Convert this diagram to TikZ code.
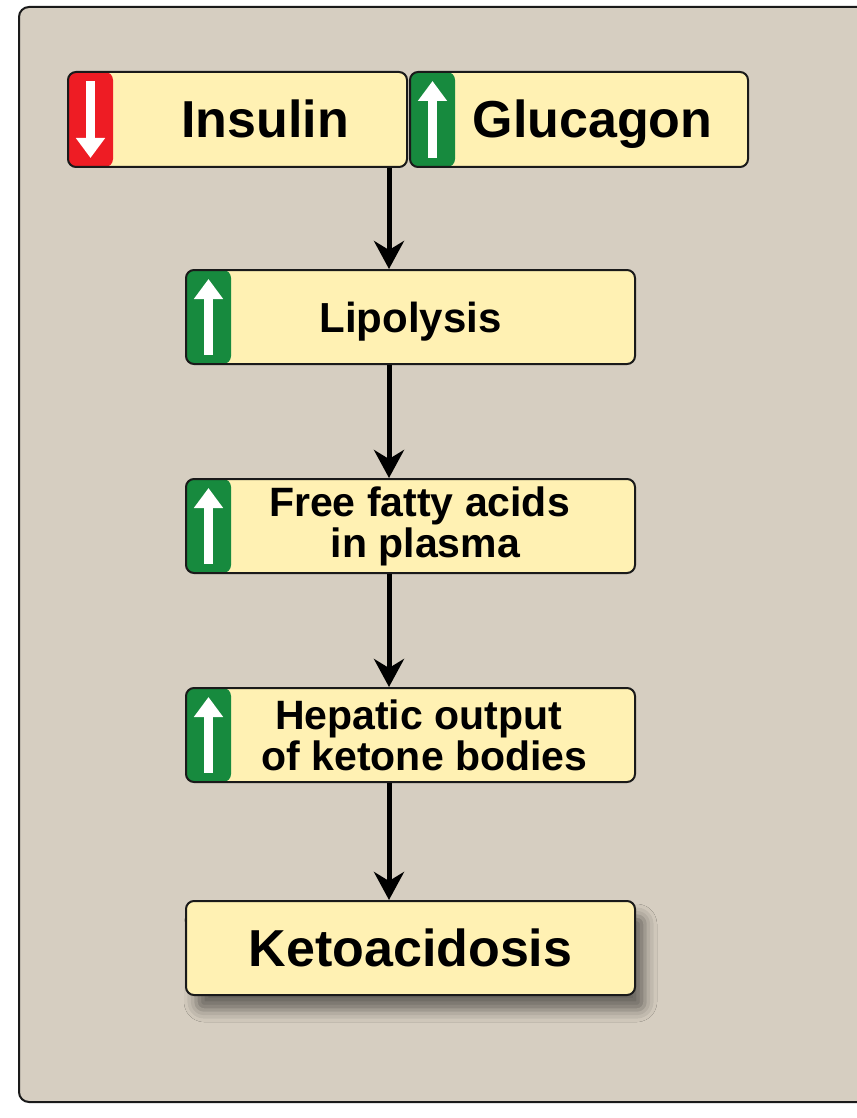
\documentclass[tikz,border=0pt]{standalone}
\usepackage{fontspec}
\setmainfont{Liberation Sans}
\usepackage{xcolor}
\definecolor{cPanel}{HTML}{D6CEC1}
\definecolor{cBox}{HTML}{FFF1B3}
\definecolor{cLine}{HTML}{1A1A1A}
\definecolor{cUp}{HTML}{178A3E}
\definecolor{cDown}{HTML}{EE1C24}
\usepackage{tikz}
\usetikzlibrary{positioning,arrows.meta,shadows.blur}
\tikzset{
  panel/.style={draw=cLine,line width=2pt,fill=cPanel,rounded corners=10pt},
  node-box/.style={draw=cLine,line width=2pt,fill=cBox,rounded corners=8pt,
    minimum height=94pt,minimum width=449pt,align=center,inner sep=0pt},
  font-big/.style={font=\fontsize{52}{56}\selectfont\bfseries,text height=37pt,text depth=0pt},
  font-mid/.style={font=\fontsize{42}{46}\selectfont\bfseries,text height=30pt,text depth=0pt},
  font-two/.style={font=\fontsize{41}{41}\selectfont\bfseries},
  text-shift/.style={execute at begin node={\hspace*{#1}}},
  badge-arrow/.style={draw=white,line width=9pt,-{Triangle[length=20pt,width=28pt]}},
  % badge on the left edge of a box: green = rising, red = falling
  badge-up/.style={path picture={
      \fill[cUp] (path picture bounding box.south west) rectangle
        ([xshift=45pt]path picture bounding box.north west);
      \draw[badge-arrow] ([xshift=22.5pt,yshift=9pt]path picture bounding box.south west)
        -- ([xshift=22.5pt,yshift=-9pt]path picture bounding box.north west);}},
  badge-down/.style={path picture={
      \fill[cDown] (path picture bounding box.south west) rectangle
        ([xshift=45pt]path picture bounding box.north west);
      \draw[badge-arrow] ([xshift=22.5pt,yshift=-9pt]path picture bounding box.north west)
        -- ([xshift=22.5pt,yshift=9pt]path picture bounding box.south west);}},
  arrow/.style={draw=black,line width=5pt,-{Stealth[length=28pt,width=30pt,inset=9pt]}},
}
\begin{document}
\begin{tikzpicture}[x=1pt,y=-1pt,node distance=113pt]
  \useasboundingbox (0,0) rectangle (856,1118);
  \draw[panel] (19,7) rectangle (880,1102);
  \node[node-box,badge-down,font-big,minimum width=339pt,minimum height=95pt,text-shift=55pt]
    at (237.5,119.5) (insulin) {Insulin};
  \node[node-box,badge-up,font-big,minimum width=338pt,minimum height=95pt,text-shift=27pt,
    right=1pt of insulin] (glucagon) {Glucagon};
  \node[node-box,badge-up,font-mid] at (410.5,317) (lipo) {Lipolysis};
  \node[node-box,badge-up,font-two,below=of lipo] (ffa)
    {\hspace*{18pt}Free fatty acids\\\hspace*{30pt}in plasma};
  \node[node-box,badge-up,font-two,below=of ffa] (hep)
    {\hspace*{16pt}Hepatic output\\\hspace*{28pt}of ketone bodies};
  \node[node-box,font-big,below=117pt of hep,
    blur shadow={shadow xshift=10pt,shadow yshift=-15pt,shadow blur radius=12pt,
      shadow opacity=50}] (keto) {Ketoacidosis};
  \coordinate (ax) at (389,0);
  \draw[arrow] (insulin.south -| ax) -- (lipo.north -| ax);
  \draw[arrow] (lipo.south -| ax) -- (ffa.north -| ax);
  \draw[arrow] (ffa.south -| ax) -- (hep.north -| ax);
  \draw[arrow] (hep.south -| ax) -- (keto.north -| ax);
\end{tikzpicture}
\end{document}
